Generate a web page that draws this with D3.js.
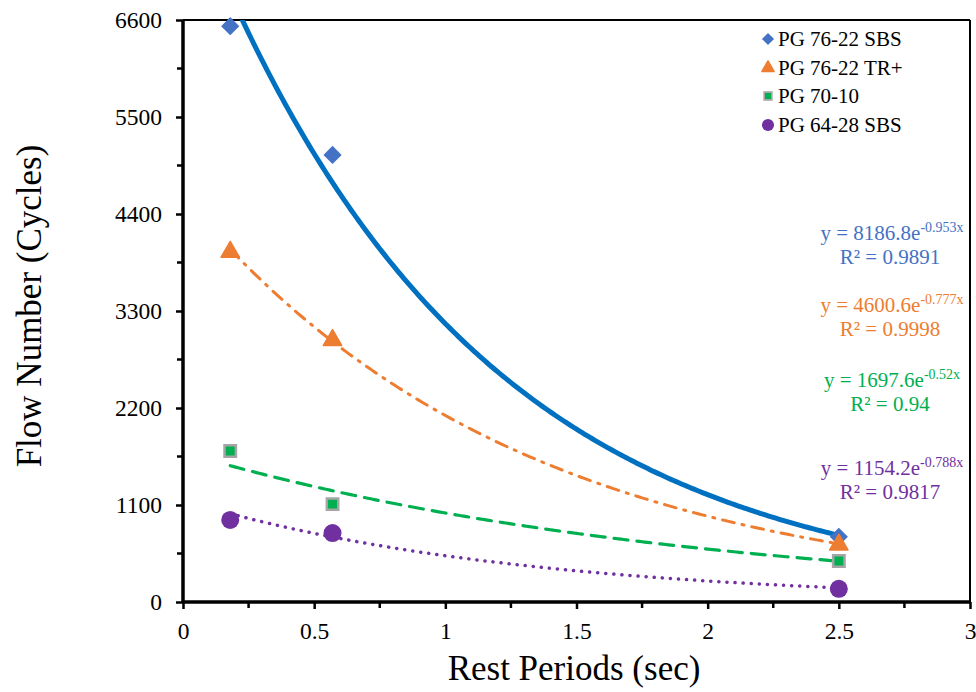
<!DOCTYPE html>
<html><head><meta charset="utf-8">
<script src="https://cdn.jsdelivr.net/npm/d3@7"></script>
<style>body{margin:0;background:#fff}text{font-family:"Liberation Serif","Times New Roman",serif}</style>
</head><body>
<svg id="c" width="976" height="692"></svg>
<script>
const restPeriods = [0.18, 0.57, 2.5];
const seriesNames = ["PG 76-22 SBS", "PG 76-22 TR+", "PG 70-10", "PG 64-28 SBS"];
const sbs7622 = [6530, 5070, 740];
const tr7622 = [3970, 2970, 650];
const pg7010 = [1712, 1110, 465];
const sbs6428 = [930, 782, 150];
const fitA = [8186.8, 4600.6, 1697.6, 1154.2];
const fitB = [-0.953, -0.777, -0.52, -0.788];
const fitR2 = ["0.9891", "0.9998", "0.94", "0.9817"];
const fitExp = ["-0.953x", "-0.777x", "-0.52x", "-0.788x"];
const yTicks = [0, 1100, 2200, 3300, 4400, 5500, 6600];
const xTicks = [0, 0.5, 1, 1.5, 2, 2.5, 3];

const seriesValues = [sbs7622, tr7622, pg7010, sbs6428];
const markerColor = ["#4472C4", "#ED7D31", "#00B050", "#7030A0"];
const lineColor = ["#0070C0", "#ED7D31", "#00B050", "#7030A0"];
const eqColor = ["#4472C4", "#ED7D31", "#00B050", "#7030A0"];
const serif = '"Liberation Serif","Times New Roman",serif';

const svg = d3.select("#c");
const L = 183, R = 970, T = 20, B = 602;
const x = d3.scaleLinear().domain([0, 3]).range([L, R]);
const y = d3.scaleLinear().domain([0, 6600]).range([B, T]);

svg.append("defs").append("clipPath").attr("id", "clip")
  .append("rect").attr("x", L).attr("y", T).attr("width", R - L).attr("height", B - T);

// frame top/right
svg.append("line").attr("x1", L).attr("x2", R).attr("y1", T).attr("y2", T).attr("stroke", "#000").attr("stroke-width", 2);
svg.append("line").attr("x1", R).attr("x2", R).attr("y1", T).attr("y2", B).attr("stroke", "#000").attr("stroke-width", 2);

// minor ticks
const yMinor = d3.range(550, 6600, 1100);
svg.append("g").selectAll("line").data(yMinor).join("line")
  .attr("x1", L - 6).attr("x2", L).attr("y1", d => y(d)).attr("y2", d => y(d)).attr("stroke", "#000").attr("stroke-width", 2.5);
const xMinor = d3.range(0.25, 3, 0.5);
svg.append("g").selectAll("line").data(xMinor).join("line")
  .attr("x1", d => x(d)).attr("x2", d => x(d)).attr("y1", B).attr("y2", B + 6).attr("stroke", "#000").attr("stroke-width", 2.5);

// axes
const yAxis = svg.append("g").attr("transform", `translate(${L},0)`)
  .call(d3.axisLeft(y).tickValues(yTicks).tickSize(7).tickPadding(14).tickFormat(d3.format("d")));
const xAxis = svg.append("g").attr("transform", `translate(0,${B})`)
  .call(d3.axisBottom(x).tickValues(xTicks).tickSize(7).tickPadding(13).tickFormat(d => String(d)));
[yAxis, xAxis].forEach(g => {
  g.attr("font-family", serif);
  g.select(".domain").attr("stroke", "#000").attr("stroke-width", 3.5);
  g.selectAll(".tick line").attr("stroke", "#000").attr("stroke-width", 2.5);
  g.selectAll(".tick text").attr("fill", "#000").style("font-size", "23.5px").style("font-family", serif);
});
yAxis.select(".domain").attr("d", `M0,${B}V${T}`);
xAxis.select(".domain").attr("d", `M${L},0H${R}`);

// axis titles
svg.append("text").attr("x", 574).attr("y", 680).attr("text-anchor", "middle").style("font-size", "35px").text("Rest Periods (sec)");
svg.append("text").attr("transform", "translate(41,306) rotate(-90)").attr("text-anchor", "middle").style("font-size", "35px").text("Flow Number (Cycles)");

// trendlines
const dashes = [null, "12,8,2,8", "14,9", "0.1,8"];
const widths = [5, 3, 3.2, 3.5];
const plot = svg.append("g").attr("clip-path", "url(#clip)");
fitA.forEach((a, i) => {
  const xs = d3.range(restPeriods[0], restPeriods[2] + 0.001, 0.01);
  const pts = xs.map(v => [v, a * Math.exp(fitB[i] * v)]);
  plot.append("path").datum(pts)
    .attr("d", d3.line().x(d => x(d[0])).y(d => y(d[1])))
    .attr("fill", "none").attr("stroke", lineColor[i]).attr("stroke-width", widths[i])
    .attr("stroke-dasharray", dashes[i]).attr("stroke-linecap", i === 0 ? "butt" : "round");
});

// markers
const symTypes = [d3.symbolSquare, d3.symbolTriangle, d3.symbolSquare, d3.symbolCircle];
const symSizes = [165, 145, 130, 255];
function drawMarker(g, i, cx, cy, scale) {
  const s = scale || 1;
  const p = g.append("path").attr("d", d3.symbol().type(symTypes[i]).size(symSizes[i] * s)())
    .attr("transform", `translate(${cx},${cy})` + (i === 0 ? " rotate(45)" : ""));
  p.attr("fill", markerColor[i]);
  if (i === 2) p.attr("stroke", "#A5A5A5").attr("stroke-width", 2.5 * Math.sqrt(s));
  if (i === 1) p.attr("stroke", markerColor[i]).attr("stroke-width", 1.5).attr("stroke-linejoin", "round");
}
seriesValues.forEach((vals, i) => {
  vals.forEach((v, j) => drawMarker(svg, i, x(restPeriods[j]), y(v)));
});

// legend
const legY = [39, 68, 96, 125];
seriesNames.forEach((n, i) => {
  drawMarker(svg, i, 768, legY[i], 0.45);
  svg.append("text").attr("x", 778).attr("y", legY[i] + 7).style("font-size", "21px").attr("fill", "#000").text(n);
});

// equations
const eqY = [240, 312, 387, 475];
fitA.forEach((a, i) => {
  const t = svg.append("text").attr("x", 892).attr("y", eqY[i]).attr("text-anchor", "middle")
    .style("font-size", "21px").attr("fill", eqColor[i]);
  t.append("tspan").text(`y = ${a}e`);
  t.append("tspan").attr("dy", -8).style("font-size", "14px").text(fitExp[i]);
  svg.append("text").attr("x", 890).attr("y", eqY[i] + 24).attr("text-anchor", "middle")
    .style("font-size", "21px").attr("fill", eqColor[i]).text(`R² = ${fitR2[i]}`);
});
</script>
</body></html>
